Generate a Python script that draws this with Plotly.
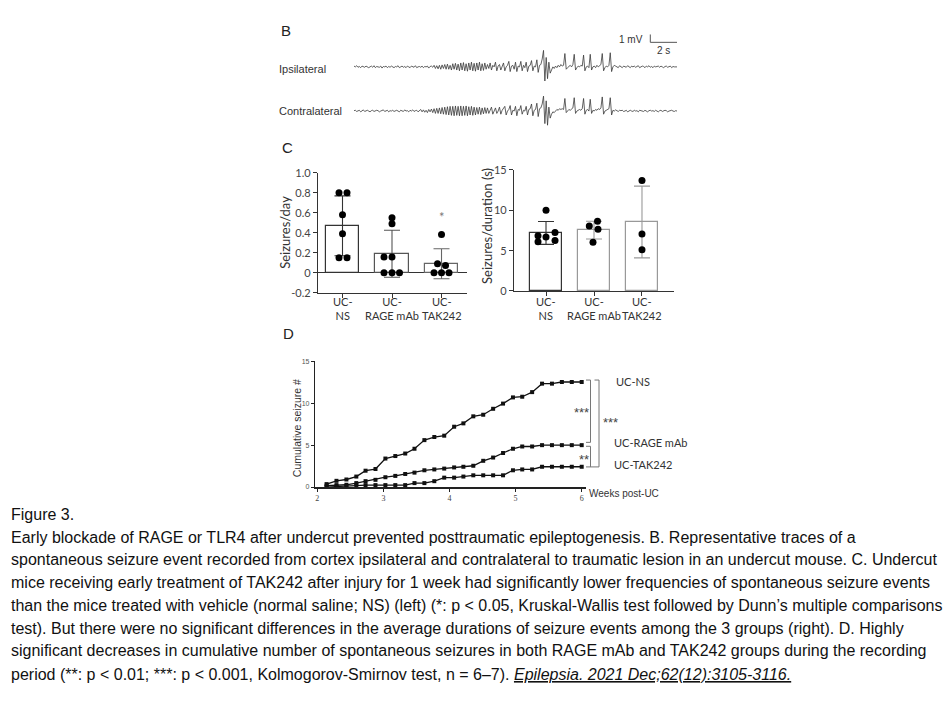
import numpy as np
import plotly.graph_objects as go

# ---------------- DATA ----------------
# Panel B: EEG traces (mV), sampled every 0.1 s
ipsi_mv = [
    0.1, 0.0, 0.15, -0.05, 0.05, -0.1, 0.1, 0.0, -0.05, 0.1,
    0.05, -0.1, 0.0, 0.1, -0.05, 0.15, -0.1, 0.05, 0.0, -0.05,
    0.1, -0.15, 0.05, 0.0, 0.1, -0.1, 0.05, -0.05, 0.1, 0.0,
    -0.1, 0.05, 0.0, 0.15, -0.1, 0.0, 0.1, -0.05, 0.05, -0.1,
    0.1, 0.0, -0.1, 0.1, 0.05, -0.05, 0.15, -0.1, 0.0, 0.05,
    -0.05, 0.1, -0.1, 0.05, 0.0, 0.1, -0.15, 0.05, 0.1, -0.05,
    0.2, -0.2, 0.15, -0.25, 0.2, -0.3, 0.25, -0.2, 0.3, -0.3,
    0.35, -0.3, 0.2, -0.4, 0.4, -0.3, 0.45, -0.4, 0.35, -0.5,
    0.5, -0.4, 0.55, -0.5, 0.4, -0.55, 0.5, -0.4, 0.6, -0.5,
    0.45, -0.55, 0.5, -0.4, 0.6, -0.5, 0.4, -0.45, 0.5, -0.3,
    0.3, -0.2, 0.5, -0.4, 0.2, 0.0, 0.6, -0.5, 0.1, 0.3,
    -0.4, 0.2, 0.5, -0.5, 0.0, 0.2, 0.7, -0.6, 0.1, 0.2,
    -0.3, 0.6, -0.6, 0.1, 0.0, 0.7, -0.5, 0.2, -0.1, 0.6,
    -0.6, 0.1, 0.2, 0.8, -0.5, 0.1, 0.0, 0.9, -0.7, 0.2,
    0.3, 1.0, 2.1, -1.8, 1.2, -1.5, 0.6, -0.8, -0.3, 0.0,
    -0.2, 0.1, -0.1, 0.2, 0.0, 0.3, 0.1, 0.2, 1.7, -0.3,
    -0.1, 0.1, 0.2, 0.0, 0.3, 1.6, -0.4, -0.1, 0.1, 0.0,
    0.2, 0.1, 1.5, -0.5, 0.0, 0.1, -0.1, 1.6, -0.4, 0.0,
    0.1, -0.1, 0.2, 0.0, 0.1, 0.3, 1.7, -0.5, -0.1, 0.1,
    0.0, 0.2, 1.8, -0.6, 0.0, 0.2, 0.1, 0.0, -0.1, 0.15,
    0.0, -0.1, 0.1, 0.05, -0.05, 0.15, 0.0, -0.1, 0.1, 0.0,
    0.1, -0.05, 0.05, 0.15, -0.1, 0.0, 0.1, 0.05, -0.1, 0.1,
    0.0, 0.15, -0.05, 0.05, -0.1, 0.1, 0.0, 0.05, 0.1, -0.05,
    0.1, 0.0, -0.1, 0.05, 0.1, -0.05, 0.0, 0.1, -0.1, 0.05,
    0.0, 0.05, 0.0,
]
contra_mv = [
    0.05, 0.1, -0.05, 0.0, 0.1, -0.1, 0.05, 0.15, -0.05, 0.0,
    0.1, 0.0, -0.1, 0.05, 0.1, -0.05, 0.0, 0.1, 0.05, -0.1,
    0.0, 0.1, 0.15, -0.05, 0.0, 0.1, -0.1, 0.05, 0.0, 0.1,
    -0.05, 0.05, 0.1, 0.0, -0.1, 0.1, 0.05, -0.05, 0.15, 0.0,
    0.05, -0.1, 0.1, 0.0, 0.15, -0.05, 0.05, 0.1, -0.1, 0.0,
    0.2, -0.1, 0.15, -0.15, 0.1, -0.2, 0.2, -0.1, 0.25, -0.2,
    0.3, -0.3, 0.35, -0.3, 0.4, -0.35, 0.45, -0.4, 0.5, -0.45,
    0.55, -0.5, 0.6, -0.55, 0.6, -0.6, 0.65, -0.55, 0.6, -0.6,
    0.65, -0.6, 0.6, -0.55, 0.65, -0.6, 0.55, -0.5, 0.6, -0.55,
    0.5, -0.5, 0.45, -0.4, 0.5, -0.45, 0.4, -0.35, 0.45, -0.3,
    0.4, -0.3, 0.2, 0.5, -0.4, 0.1, 0.4, -0.3, 0.0, 0.5,
    -0.4, 0.1, 0.3, 0.6, -0.5, 0.0, 0.2, 0.7, -0.5, 0.1,
    0.0, 0.6, -0.6, 0.2, 0.1, 0.7, -0.4, 0.1, 0.0, 0.6,
    -0.5, 0.2, 0.3, 0.9, -0.6, 0.1, 0.2, 1.0, -0.7, 0.3,
    0.4, 0.9, 1.9, -1.6, 1.3, -1.8, 0.5, -0.9, -0.4, -0.1,
    -0.2, 0.0, 0.2, 0.1, 0.3, 0.2, 0.3, 0.2, 1.6, -0.2,
    0.0, 0.2, 0.1, 0.3, 0.4, 1.7, -0.3, 0.0, 0.1, 0.2,
    0.1, 0.3, 1.6, -0.4, 0.1, 0.2, 0.0, 1.5, -0.3, 0.1,
    0.0, 0.2, 0.1, 0.3, 0.2, 0.4, 1.8, -0.4, 0.0, 0.1,
    0.2, 0.3, 1.7, -0.5, 0.1, 0.0, 0.15, 0.05, -0.05, 0.1,
    0.05, 0.1, -0.05, 0.0, 0.1, -0.1, 0.05, 0.1, 0.0, -0.05,
    0.1, 0.0, 0.05, -0.1, 0.1, 0.05, 0.0, -0.05, 0.1, 0.0,
    -0.1, 0.05, 0.1, 0.0, 0.05, -0.05, 0.1, 0.0, -0.1, 0.05,
    0.1, -0.05, 0.0, 0.1, 0.05, -0.1, 0.0, 0.05, 0.1, 0.0,
    -0.05, 0.05, 0.0,
]
trace_labels = ["Ipsilateral", "Contralateral"]

# Panel C
groups = ["UC-NS", "UC-RAGE mAb", "UC-TAK242"]
day_mean = [0.47, 0.19, 0.09]
day_sd = [0.30, 0.235, 0.15]
day_points = [
    [0.80, 0.80, 0.58, 0.39, 0.15, 0.15],
    [0.55, 0.49, 0.157, 0.157, 0.0, 0.0, 0.0],
    [0.383, 0.09, 0.073, 0.0, 0.0, 0.0],
]
dur_mean = [7.2, 7.55, 8.55]
dur_sd = [1.42, 1.1, 4.45]
dur_points = [
    [10.0, 7.25, 6.85, 6.7, 6.25, 6.1],
    [8.64, 8.07, 7.66, 6.03],
    [13.7, 7.05, 5.1],
]

# Panel D: cumulative seizures vs weeks post-UC
weeks = [2.14, 2.29, 2.44, 2.59, 2.73, 2.88, 3.03, 3.18, 3.33, 3.47, 3.62, 3.77, 3.92,
         4.07, 4.21, 4.36, 4.51, 4.66, 4.81, 4.96, 5.10, 5.25, 5.40, 5.55, 5.70, 5.85, 6.00]
cum_ns = [0.35, 0.74, 0.9, 1.25, 1.95, 2.15, 3.4, 3.7, 4.0, 4.57, 5.6, 5.97, 6.13,
          7.2, 7.6, 8.44, 8.63, 9.34, 9.96, 10.7, 10.78, 11.33, 12.34, 12.34, 12.54, 12.54, 12.54]
cum_rage = [0.16, 0.23, 0.27, 0.47, 0.7, 0.86, 1.17, 1.33, 1.56, 1.72, 2.0, 2.1, 2.2,
            2.34, 2.42, 2.54, 3.13, 3.52, 4.06, 4.57, 4.84, 4.84, 5.0, 5.0, 5.0, 5.0, 5.0]
cum_tak = [0.0, 0.08, 0.08, 0.23, 0.23, 0.23, 0.23, 0.23, 0.23, 0.47, 0.47, 0.7, 1.12,
           1.12, 1.25, 1.4, 1.4, 1.4, 1.4, 2.0, 2.1, 2.1, 2.42, 2.42, 2.42, 2.42, 2.42]

caption_lines = [
    "Figure 3.",
    "Early blockade of RAGE or TLR4 after undercut prevented posttraumatic epileptogenesis. B. Representative traces of a",
    "spontaneous seizure event recorded from cortex ipsilateral and contralateral to traumatic lesion in an undercut mouse. C. Undercut",
    "mice receiving early treatment of TAK242 after injury for 1 week had significantly lower frequencies of spontaneous seizure events",
    "than the mice treated with vehicle (normal saline; NS) (left) (*: p &lt; 0.05, Kruskal-Wallis test followed by Dunn\u2019s multiple comparisons",
    "test). But there were no significant differences in the average durations of seizure events among the 3 groups (right). D. Highly",
    "significant decreases in cumulative number of spontaneous seizures in both RAGE mAb and TAK242 groups during the recording",
    "period (**: p &lt; 0.01; ***: p &lt; 0.001, Kolmogorov-Smirnov test, n = 6\u20137). <i><u>Epilepsia. 2021 Dec;62(12):3105-3116.</u></i>",
]

# ---------------- LAYOUT HELPERS ----------------
W, H = 945, 709
def px(x): return x / W
def py(y): return 1 - y / H

FONT = "Lato"
fig = go.Figure()
annotations = []
shapes = []

def ann(x, y, text, size, color="#222", family="Liberation Sans", xanchor="center",
        yanchor="middle", angle=0, xref="paper", yref="paper"):
    xv = px(x) if xref == "paper" else x
    yv = py(y) if yref == "paper" else y
    annotations.append(dict(x=xv, y=yv, xref=xref, yref=yref, text=text, showarrow=False,
                            font=dict(size=size, color=color, family=family),
                            xanchor=xanchor, yanchor=yanchor, textangle=angle, borderpad=0))

# ---------------- PANEL B ----------------
dt = 0.1
offsets_mv = [0.0, -5.625]
for vals, off in zip([ipsi_mv, contra_mv], offsets_mv):
    t = np.arange(len(vals)) * dt
    fig.add_trace(go.Scatter(x=t, y=np.array(vals) + off, mode="lines",
                             line=dict(color="#3a3a3a", width=0.8), xaxis="x", yaxis="y",
                             showlegend=False, hoverinfo="skip"))
t_end = (len(ipsi_mv) - 1) * dt
# scale bar 1 mV / 2 s
sb_x, sb_y = t_end - 2.0, 3.125
shapes.append(dict(type="line", xref="x", yref="y", x0=sb_x, x1=sb_x, y0=sb_y, y1=sb_y + 1,
                   line=dict(color="#555", width=1)))
shapes.append(dict(type="line", xref="x", yref="y", x0=sb_x, x1=sb_x + 2, y0=sb_y, y1=sb_y,
                   line=dict(color="#555", width=1)))
ann(sb_x - 0.5, sb_y + 0.3, "1 mV", 10, "#333", xanchor="right", xref="x", yref="y")
ann(sb_x + 1.0, sb_y - 1.1, "2 s", 10, "#333", xref="x", yref="y")
ann(286, 24, "B", 15, "#222")
ann(278, 63, trace_labels[0], 11, "#333", xanchor="left")
ann(278, 106, trace_labels[1], 11, "#333", xanchor="left")

# ---------------- PANEL C ----------------
outline_day = ["#333333", "#555555", "#666666"]
outline_dur = ["#333333", "#999999", "#999999"]
jit_day_px = [[-3.5, 4.5, 0, 0, -3.5, 4.5], [0, 0, -8, 0, -8, 0, 7.5], [0, -4, 4, -7.5, 0, 7.5]]
jit_dur_px = [[0, 9, -8, 0, 9, -8], [3.5, -4.7, 4, -1], [0, 0, 0]]

def bar_panel(xa, ya, means, sds, pts, outlines, jit, px_per_unit):
    for i in range(len(groups)):
        fig.add_trace(go.Bar(x=[i], y=[means[i]], width=0.67, xaxis=xa, yaxis=ya,
                             marker=dict(color="white", line=dict(color=outlines[i], width=1.2)),
                             error_y=dict(type="data", array=[sds[i]], color=outlines[i],
                                          thickness=1.1, width=8),
                             showlegend=False, hoverinfo="skip"))
        fig.add_trace(go.Scatter(x=[i + j / px_per_unit for j in jit[i]], y=pts[i], mode="markers",
                                 marker=dict(color="black", size=7), xaxis=xa, yaxis=ya,
                                 cliponaxis=False, showlegend=False, hoverinfo="skip"))

bar_panel("x2", "y2", day_mean, day_sd, day_points, outline_day, jit_day_px, 49.5)
bar_panel("x3", "y3", dur_mean, dur_sd, dur_points, outline_dur, jit_dur_px, 48.0)

for i, g in enumerate(groups):
    a, b = g.split("-", 1)
    for xr in ("x2", "x3"):
        ann(i, 307.5, a + "-<br>" + b, 11, "#333", family=FONT, xref=xr)
ann(2, 0.56, "*", 13, "#777", family=FONT, xref="x2", yref="y2")
ann(287, 143, "C", 15, "#222")
ann(285, 230, "Seizures/day", 13, "#333", family=FONT, angle=-90)
ann(487, 223, "Seizures/duration (s)", 13, "#333", family=FONT, angle=-90)

# ---------------- PANEL D ----------------
for ys in [cum_ns, cum_rage, cum_tak]:
    fig.add_trace(go.Scatter(x=weeks, y=ys, mode="lines+markers", xaxis="x4", yaxis="y4",
                             line=dict(color="#111", width=1.3),
                             marker=dict(symbol="square", size=4, color="#111"),
                             cliponaxis=False, showlegend=False, hoverinfo="skip"))
ann(288, 333, "D", 15, "#222")
ann(297, 429, "Cumulative seizure #", 10.5, "#333", angle=-90)
ann(588, 495.5, "Weeks post-UC", 10, "#333", xanchor="left")
ann(615, 381.5, "UC-NS", 11, "#333", family=FONT, xanchor="left")
ann(612.5, 443.5, "UC-RAGE mAb", 11, "#333", family=FONT, xanchor="left")
ann(612.5, 466.5, "UC-TAK242", 11, "#333", family=FONT, xanchor="left")
ann(581.5, 413, "***", 13, "#444", family="Liberation Sans")
ann(584, 461, "**", 13, "#444", family="Liberation Sans")
ann(610.5, 423, "***", 13, "#444", family="Liberation Sans")

def pline(x0, y0, x1, y1, color="#777", w=1):
    shapes.append(dict(type="line", xref="paper", yref="paper", x0=px(x0), y0=py(y0),
                       x1=px(x1), y1=py(y1), line=dict(color=color, width=w)))
# bracket NS vs RAGE
pline(586, 380, 590.5, 380); pline(590.5, 380, 590.5, 443.5); pline(586, 443.5, 590.5, 443.5)
# bracket RAGE vs TAK
pline(586, 447.5, 590.5, 447.5); pline(590.5, 447.5, 590.5, 468.5)
# bracket NS vs TAK
pline(594.5, 380, 599, 380); pline(599, 380, 599, 468.5); pline(586, 468.5, 599, 468.5)

# ---------------- CAPTION ----------------
cap_y = [517, 540, 563, 586, 609.5, 633, 656, 679.5]
for txt, yy in zip(caption_lines, cap_y):
    ann(10, yy, txt, 16, "#111", family="Liberation Sans", xanchor="left")

# ---------------- AXES ----------------
ax_common = dict(showgrid=False, zeroline=False)
tickf = dict(family=FONT, size=11, color="#444")
layout = dict(
    width=W, height=H, margin=dict(l=0, r=0, t=0, b=0),
    paper_bgcolor="white", plot_bgcolor="rgba(0,0,0,0)", showlegend=False, bargap=0,
    xaxis=dict(domain=[px(354), px(677)], range=[0, t_end], visible=False, **ax_common),
    yaxis=dict(domain=[py(125), py(20)], range=[-8.0, 5.125], visible=False, **ax_common),
    xaxis2=dict(domain=[px(318), px(467)], range=[-0.495, 2.515], anchor="y2",
                showline=True, linecolor="#333", linewidth=1.3, ticks="outside", ticklen=4,
                tickcolor="#333", tickvals=[0, 1, 2], showticklabels=False, **ax_common),
    yaxis2=dict(domain=[py(291), py(169)], range=[-0.2, 1.0], anchor="x2",
                showline=True, linecolor="#333", linewidth=1.3, ticks="outside", ticklen=4,
                tickcolor="#333", tickvals=[-0.2, 0, 0.2, 0.4, 0.6, 0.8, 1.0],
                ticktext=["-0.2", "0", "0.2", "0.4", "0.6", "0.8", "1.0"],
                tickfont=tickf, showgrid=False,
                zeroline=True, zerolinecolor="#333", zerolinewidth=1.3),
    xaxis3=dict(domain=[px(514), px(674)], range=[-0.667, 2.667], anchor="y3",
                showline=True, linecolor="#333", linewidth=1.3, ticks="outside", ticklen=4,
                tickcolor="#333", tickvals=[0, 1, 2], showticklabels=False, **ax_common),
    yaxis3=dict(domain=[py(289.3), py(166)], range=[0, 15], anchor="x3",
                showline=True, linecolor="#333", linewidth=1.3, ticks="outside", ticklen=4,
                tickcolor="#333", tickvals=[0, 5, 10, 15],
                tickfont=tickf, **ax_common),
    xaxis4=dict(domain=[px(315), px(586)], range=[1.965, 6.065], anchor="y4",
                showline=True, linecolor="#222", linewidth=1.6, ticks="outside", ticklen=3,
                tickcolor="#222", tickvals=[2, 3, 4, 5, 6],
                tickfont=dict(family="Liberation Serif", size=8, color="#444"), **ax_common),
    yaxis4=dict(domain=[py(489), py(361)], range=[0, 15], anchor="x4",
                showline=True, linecolor="#222", linewidth=1.2, ticks="outside", ticklen=3,
                tickcolor="#222", tickvals=[0, 5, 10, 15],
                tickfont=dict(family="Liberation Sans", size=7, color="#555"), **ax_common),
    annotations=annotations, shapes=shapes,
)
fig.update_layout(**layout)
fig.write_html("out.html")
